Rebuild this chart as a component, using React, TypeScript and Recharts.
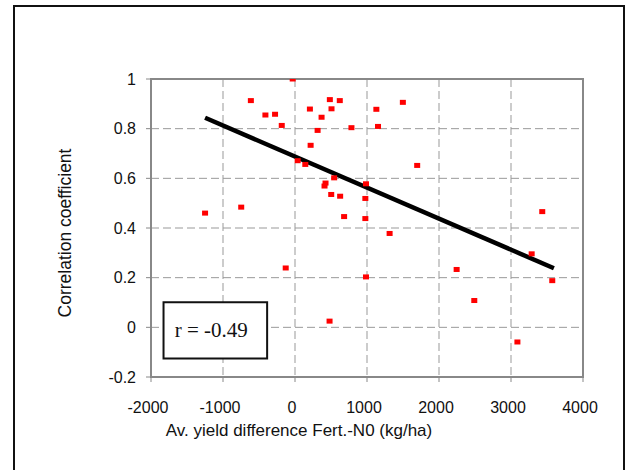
import React from 'react';
import {
  ScatterChart,
  Scatter,
  XAxis,
  YAxis,
  CartesianGrid,
  ReferenceArea,
} from 'recharts';

// Average yield difference Fert.-N0 (kg/ha)
const yieldDiff = [
  -32, -613, -411, -277, -184, 207, 484, 622, 507, 369, 314, 784, 1130, 1153,
  217, 37, 143, 544, 424, 410, 503, 627, 986, 977, 682, 977, -1249, -747, 1498,
  1697, 3434, -129, 986, 480, 1314, 2245, 2490, 3089, 3287, 3573,
];
// Correlation coefficient
const corrCoef = [
  1.0, 0.913, 0.855, 0.858, 0.813, 0.879, 0.917, 0.913, 0.88, 0.846, 0.793,
  0.804, 0.878, 0.809, 0.733, 0.671, 0.656, 0.602, 0.581, 0.569, 0.535, 0.528,
  0.578, 0.519, 0.446, 0.438, 0.46, 0.484, 0.906, 0.652, 0.466, 0.239, 0.203,
  0.025, 0.378, 0.233, 0.108, -0.059, 0.296, 0.188,
];
// Regression line end points
const trendX = [-1249, 3596];
const trendY = [0.844, 0.238];

const xTicks = [-2000, -1000, 0, 1000, 2000, 3000, 4000];
const yTicks = [-0.2, 0, 0.2, 0.4, 0.6, 0.8, 1];
const rLabel = 'r = -0.49';
const rBoxX = [-1826, -387];
const rBoxY = [-0.125, 0.101];

const points = yieldDiff.map((x, i) => ({ x, y: corrCoef[i] }));
const trend = trendX.map((x, i) => ({ x, y: trendY[i] }));

const SANS = '"Liberation Sans", Arial, sans-serif';
const SERIF = '"Liberation Serif", "Times New Roman", serif';

const RedSquare = (props: any) => {
  const { cx, cy } = props;
  if (cx == null || cy == null) return <g />;
  return <rect x={cx - 3} y={cy - 2.5} width={6} height={5} fill="#ff0000" />;
};

const NoShape = () => <g />;

export default function App() {
  return (
    <div
      style={{
        position: 'absolute',
        left: 0,
        top: 0,
        width: 629,
        height: 470,
        overflow: 'hidden',
        background: '#fff',
      }}
    >
      <div
        style={{
          position: 'absolute',
          left: 13,
          top: 5,
          width: 612,
          height: 480,
          boxSizing: 'border-box',
          borderLeft: '2px solid #111',
          borderTop: '2px solid #111',
          borderRight: '2px solid #111',
        }}
      />
      <div style={{ position: 'absolute', left: 0, top: 0 }}>
        <ScatterChart
          width={629}
          height={470}
          margin={{ top: 79, right: 46, left: 0, bottom: 0 }}
        >
          <CartesianGrid
            stroke="#999"
            strokeDasharray="8 4"
            strokeWidth={1}
            horizontalValues={yTicks}
            verticalValues={xTicks}
          />
          <XAxis
            type="number"
            dataKey="x"
            domain={[-2000, 4000]}
            ticks={xTicks}
            allowDataOverflow
            height={93}
            tickSize={5}
            tickMargin={20}
            axisLine={{ stroke: '#888', strokeWidth: 2 }}
            tickLine={{ stroke: '#888', strokeWidth: 1 }}
            tick={{ fill: '#111', fontSize: 16, fontFamily: SANS, dx: -3 }}
            interval={0}
            label={{
              content: () => (
                <text
                  x={299}
                  y={436}
                  textAnchor="middle"
                  fontSize={17}
                  fontFamily={SANS}
                  fill="#111"
                >
                  Av. yield difference Fert.-N0 (kg/ha)
                </text>
              ),
            }}
          />
          <YAxis
            type="number"
            dataKey="y"
            domain={[-0.2, 1]}
            ticks={yTicks}
            allowDataOverflow
            width={151}
            tickSize={5}
            tickMargin={10}
            axisLine={{ stroke: '#888', strokeWidth: 2 }}
            tickLine={{ stroke: '#888', strokeWidth: 1 }}
            tick={{ fill: '#111', fontSize: 16, fontFamily: SANS }}
            interval={0}
            label={{
              content: () => (
                <text
                  x={71}
                  y={233}
                  transform="rotate(-90, 71, 233)"
                  textAnchor="middle"
                  fontSize={17.5}
                  fontFamily={SANS}
                  fill="#111"
                >
                  Correlation coefficient
                </text>
              ),
            }}
          />
          <ReferenceArea
            x1={-2000}
            x2={4000}
            y1={-0.2}
            y2={1}
            fill="none"
            fillOpacity={0}
            stroke="#888"
            strokeWidth={2}
            ifOverflow="visible"
          />
          <ReferenceArea
            x1={rBoxX[0]}
            x2={rBoxX[1]}
            y1={rBoxY[0]}
            y2={rBoxY[1]}
            fill="#fff"
            fillOpacity={1}
            stroke="#111"
            strokeWidth={2}
            label={{
              content: (p: any) => {
                const vb = p.viewBox || {};
                return (
                  <text
                    x={vb.x + vb.width / 2 - 4}
                    y={vb.y + vb.height / 2 + 7}
                    textAnchor="middle"
                    fontSize={21}
                    fontFamily={SERIF}
                    fill="#111"
                  >
                    {rLabel}
                  </text>
                );
              },
            }}
          />
          <Scatter
            data={trend}
            line={{ stroke: '#000', strokeWidth: 4.5 }}
            lineType="joint"
            shape={NoShape}
            isAnimationActive={false}
          />
          <Scatter
            data={points}
            shape={RedSquare}
            isAnimationActive={false}
          />
        </ScatterChart>
      </div>
    </div>
  );
}
